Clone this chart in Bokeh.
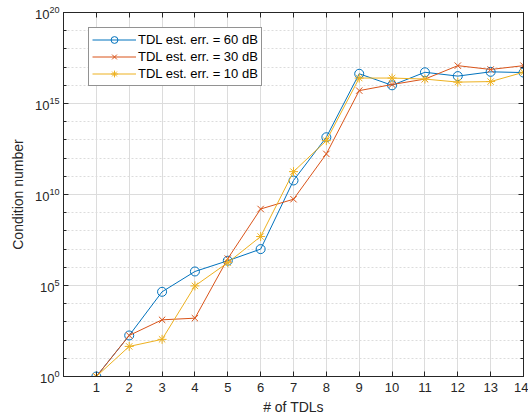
from bokeh.plotting import figure
from bokeh.models import (FixedTicker, Legend, LegendItem, LinearAxis, LogAxis, Range1d,
                          CustomJSTickFormatter)
from bokeh.embed import file_html
from bokeh.resources import INLINE

# ---- data ----
n_tdls = [1, 2, 3, 4, 5, 6, 7, 8, 9, 10, 11, 12, 13, 14]
cond_60db = [1.0, 1.8e2, 4.5e4, 5.9e5, 2.3e6, 1.0e7, 5.9e10, 1.4e13,
             4.3e16, 1.0e16, 5.2e16, 3.2e16, 5.5e16, 5.0e16]
cond_30db = [1.0, 1.8e2, 1.3e3, 1.6e3, 3.0e6, 1.6e9, 5.5e9, 1.7e12,
             5.1e15, 1.1e16, 2.2e16, 1.2e17, 7.4e16, 1.2e17]
cond_10db = [1.0, 45.0, 1.1e2, 9.5e4, 1.8e6, 4.9e7, 1.8e11, 9.1e12,
             2.5e16, 2.5e16, 2.2e16, 1.5e16, 1.6e16, 5.2e16]
labels = ["TDL est. err. = 60 dB", "TDL est. err. = 30 dB", "TDL est. err. = 10 dB"]
x_ticks = [1, 2, 3, 4, 5, 6, 7, 8, 9, 10, 11, 12, 13, 14]
y_major = [1e0, 1e5, 1e10, 1e15, 1e20]
y_minor = [10.0 ** k for k in range(0, 21)]

colors = ["#0072BD", "#D95319", "#EDB120"]
markers = ["circle", "x", "asterisk"]
FONT = "Liberation Sans"
TXT = "#262626"

p = figure(width=528, height=418, y_axis_type="log", output_backend="svg",
           toolbar_location=None, x_range=Range1d(0, 14), y_range=Range1d(1, 1e20),
           min_border_left=63, min_border_right=5, min_border_top=12, min_border_bottom=42)
p.outline_line_color = TXT
p.outline_line_width = 1
p.background_fill_color = "white"
p.border_fill_color = "white"

# axes
p.xaxis.ticker = FixedTicker(ticks=x_ticks)
p.yaxis.ticker = FixedTicker(ticks=y_major, minor_ticks=y_minor)
for ax in p.xaxis + p.yaxis:
    ax.axis_line_color = TXT
    ax.major_tick_line_color = TXT
    ax.minor_tick_line_color = TXT
    ax.major_tick_in = 5
    ax.major_tick_out = 0
    ax.minor_tick_in = 3
    ax.minor_tick_out = 0
    ax.major_label_text_font = FONT
    ax.major_label_text_font_size = "13px"
    ax.major_label_text_color = TXT
    ax.axis_label_text_font = FONT
    ax.axis_label_text_font_size = "14px"
    ax.axis_label_text_font_style = "normal"
    ax.axis_label_text_color = TXT
p.xaxis.axis_label = "# of TDLs"
p.yaxis.axis_label = "Condition number"
p.xaxis.major_label_standoff = 6
p.xaxis.axis_label_standoff = 4
p.yaxis.major_label_standoff = 4
p.yaxis.axis_label_standoff = 6

# mirrored axes (box with ticks, no labels)
top = LinearAxis(ticker=FixedTicker(ticks=x_ticks),
                 formatter=CustomJSTickFormatter(code="return ''"),
                 major_label_standoff=0, major_tick_in=5, major_tick_out=0,
                 axis_line_color=TXT, major_tick_line_color=TXT)
right = LogAxis(ticker=FixedTicker(ticks=y_major, minor_ticks=y_minor),
                formatter=CustomJSTickFormatter(code="return ''"), major_label_standoff=0,
                major_tick_in=5, major_tick_out=0, minor_tick_in=3, minor_tick_out=0,
                axis_line_color=TXT, major_tick_line_color=TXT, minor_tick_line_color=TXT)
p.add_layout(top, "above")
p.add_layout(right, "right")

# grids
p.xgrid.grid_line_color = "#dcdcdc"
p.xgrid.grid_line_width = 1
p.ygrid.grid_line_color = "#dcdcdc"
p.ygrid.minor_grid_line_color = "#dcdcdc"
p.ygrid.minor_grid_line_dash = "2 2"

items = []
for ys, col, mk, lab in zip([cond_60db, cond_30db, cond_10db], colors, markers, labels):
    ln = p.line(n_tdls, ys, line_color=col, line_width=1.0)
    if mk == "circle":
        sc = p.scatter(n_tdls, ys, marker=mk, size=9, line_color=col,
                       fill_color=None, line_width=1.0)
    else:
        sc = p.scatter(n_tdls, ys, marker=mk, size=9, line_color=col, line_width=1.0)
    items.append(LegendItem(label=lab, renderers=[ln, sc]))

legend = Legend(items=items, location=(25, 290), label_text_font=FONT,
                label_text_font_size="13px", label_text_color="black",
                border_line_color=TXT, border_line_width=1, background_fill_alpha=1,
                padding=3, spacing=0, label_height=17, glyph_height=17, glyph_width=44,
                label_standoff=2, margin=0)
p.add_layout(legend)

open("out.html", "w").write(file_html(p, INLINE))
